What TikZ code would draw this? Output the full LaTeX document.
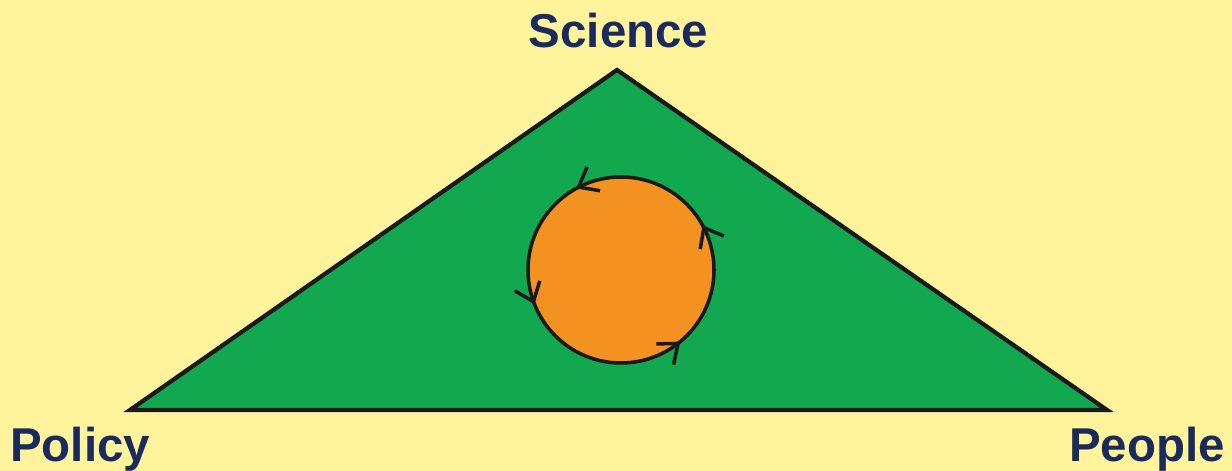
\documentclass[tikz,border=0pt]{standalone}
\usepackage{fontspec}
\setmainfont{Liberation Sans}
\usetikzlibrary{arrows.meta, decorations.markings}
\definecolor{paperyellow}{HTML}{FFF39C}
\definecolor{fieldgreen}{HTML}{12A84F}
\definecolor{coreorange}{HTML}{F39220}
\definecolor{labelnavy}{HTML}{1B2A5C}
\tikzset{
    cornerlabel/.style={
        inner sep=0pt,
        text=labelnavy,
        font=\fontsize{27}{30}\selectfont\bfseries
    },
    trianglefield/.style={
        draw=black!90,
        fill=fieldgreen,
        line width=2.4pt,
        line join=miter
    },
    cycletip/.tip={Straight Barb[length=3.4mm, width=5.4mm, line width=2pt]},
    cyclecore/.style={
        draw=black!90,
        fill=coreorange,
        line width=2pt,
        postaction={decorate},
        decoration={markings,
            mark=at position 0.08 with {\arrow{cycletip}},
            mark=at position 0.33 with {\arrow{cycletip}},
            mark=at position 0.56 with {\arrow{cycletip}},
            mark=at position 0.86 with {\arrow{cycletip}}
        }
    }
}
\begin{document}
\begin{tikzpicture}
    \fill[paperyellow] (0,0) rectangle (24.64,9.42);
    \useasboundingbox (0,0) rectangle (24.64,9.42);

    \coordinate (apex) at (12.34,8.02);
    \coordinate (leftcorner) at (2.6,1.22);
    \coordinate (rightcorner) at (22.14,1.22);
    \coordinate (cyclecentre) at (12.42,4.02);

    \draw[trianglefield] (leftcorner) -- (apex) -- (rightcorner) -- cycle;
    \draw[cyclecore] (cyclecentre) circle (1.86);

    \node[cornerlabel, anchor=base] (science) at (12.37,8.46) {Science};
    \node[cornerlabel, anchor=base west] (policy) at (0.2,0.18) {Policy};
    \node[cornerlabel, anchor=base east] (people) at (24.5,0.18) {People};
\end{tikzpicture}
\end{document}
